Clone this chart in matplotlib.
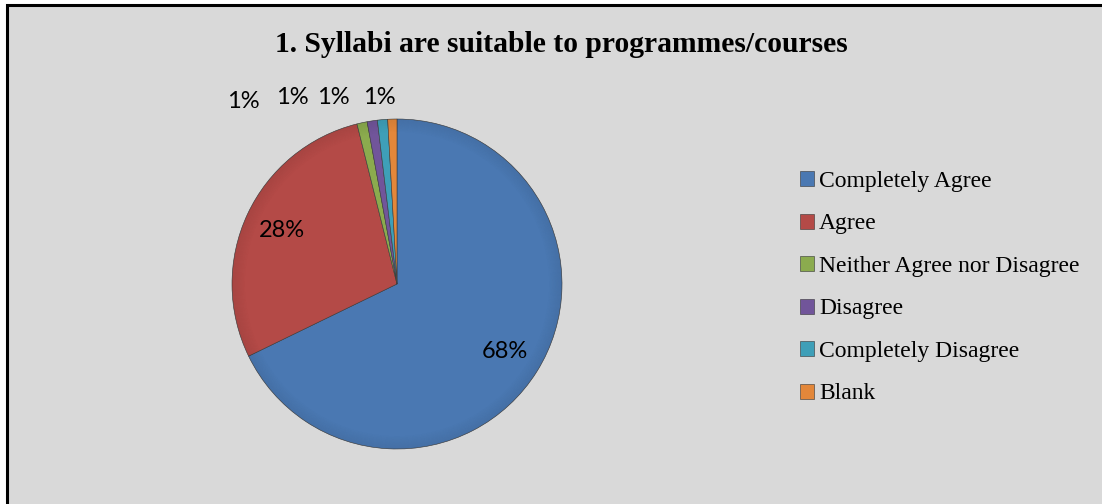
import matplotlib
matplotlib.use("Agg")
import math
import matplotlib.pyplot as plt
from matplotlib.patches import Patch, Rectangle

categories = ["Completely Agree", "Agree", "Neither Agree nor Disagree",
              "Disagree", "Completely Disagree", "Blank"]
values = [67.8, 28.3, 1.0, 1.0, 1.0, 0.9]
value_labels = ["68%", "28%", "1%", "1%", "1%", "1%"]
colors = ["#4a78b2", "#b44a47", "#8bab4e", "#71559a", "#3e9fb8", "#e3873a"]
title = "1. Syllabi are suitable to programmes/courses"

W, H = 1102, 504
fig = plt.figure(figsize=(W / 100, H / 100), dpi=100)
fig.patch.set_facecolor("white")

# chart area with border on left/top
fig.add_artist(Rectangle((7 / W, -0.1), 1.2, (H - 5.5) / H + 0.1,
                         transform=fig.transFigure, facecolor="#d9d9d9",
                         edgecolor="black", linewidth=2.2, zorder=0))

cx, cy, r = 397, 284, 165
ax = fig.add_axes([(cx - r) / W, (H - cy - r) / H, 2 * r / W, 2 * r / H])
ax.set_facecolor("none")
wedges, _ = ax.pie(values, colors=colors, startangle=90, counterclock=False,
                   radius=1.0,
                   wedgeprops=dict(edgecolor="#3a3a3a", linewidth=0.4))
ax.set_xlim(-1, 1)
ax.set_ylim(-1, 1)
ax.set_aspect("auto")
ax.axis("off")

# subtle bevel shading near the rim
for k in range(14):
    rr = 1.0 - k * 0.006
    ax.add_patch(plt.Circle((0, 0), rr, fill=False, edgecolor="black",
                            linewidth=0.6, alpha=0.08 * (14 - k) / 14))

pct_font = dict(family=["Lato", "DejaVu Sans"], fontsize=17, color="black")
for w, lab in zip(wedges[:2], value_labels[:2]):
    ang = math.radians((w.theta1 + w.theta2) / 2)
    d = 0.77
    ax.text(d * math.cos(ang), d * math.sin(ang), lab, ha="center",
            va="center", **pct_font)
# small slices labelled above the pie
small_pos = [(-0.933, 1.109), (-0.636, 1.133), (-0.388, 1.133), (-0.109, 1.133)]
for (x, y), lab in zip(small_pos, value_labels[2:]):
    ax.text(x, y, lab, ha="center", va="center", clip_on=False, **pct_font)

fig.text(561 / W, 1 - 45 / H, title, ha="center", va="center",
         family="Liberation Serif", fontweight="bold", fontsize=21.3)

handles = [Patch(facecolor=c, edgecolor="#333333", linewidth=0.4) for c in colors]
leg = fig.legend(handles, categories, loc="upper left",
                 bbox_to_anchor=(800 / W, 1 - 171 / H),
                 frameon=False, prop=dict(family="Liberation Serif", size=17),
                 handlelength=0.6, handleheight=0.6, handletextpad=0.2,
                 labelspacing=0.91, borderaxespad=0, borderpad=0)

fig.savefig("out.png", dpi=100, facecolor=fig.get_facecolor())
